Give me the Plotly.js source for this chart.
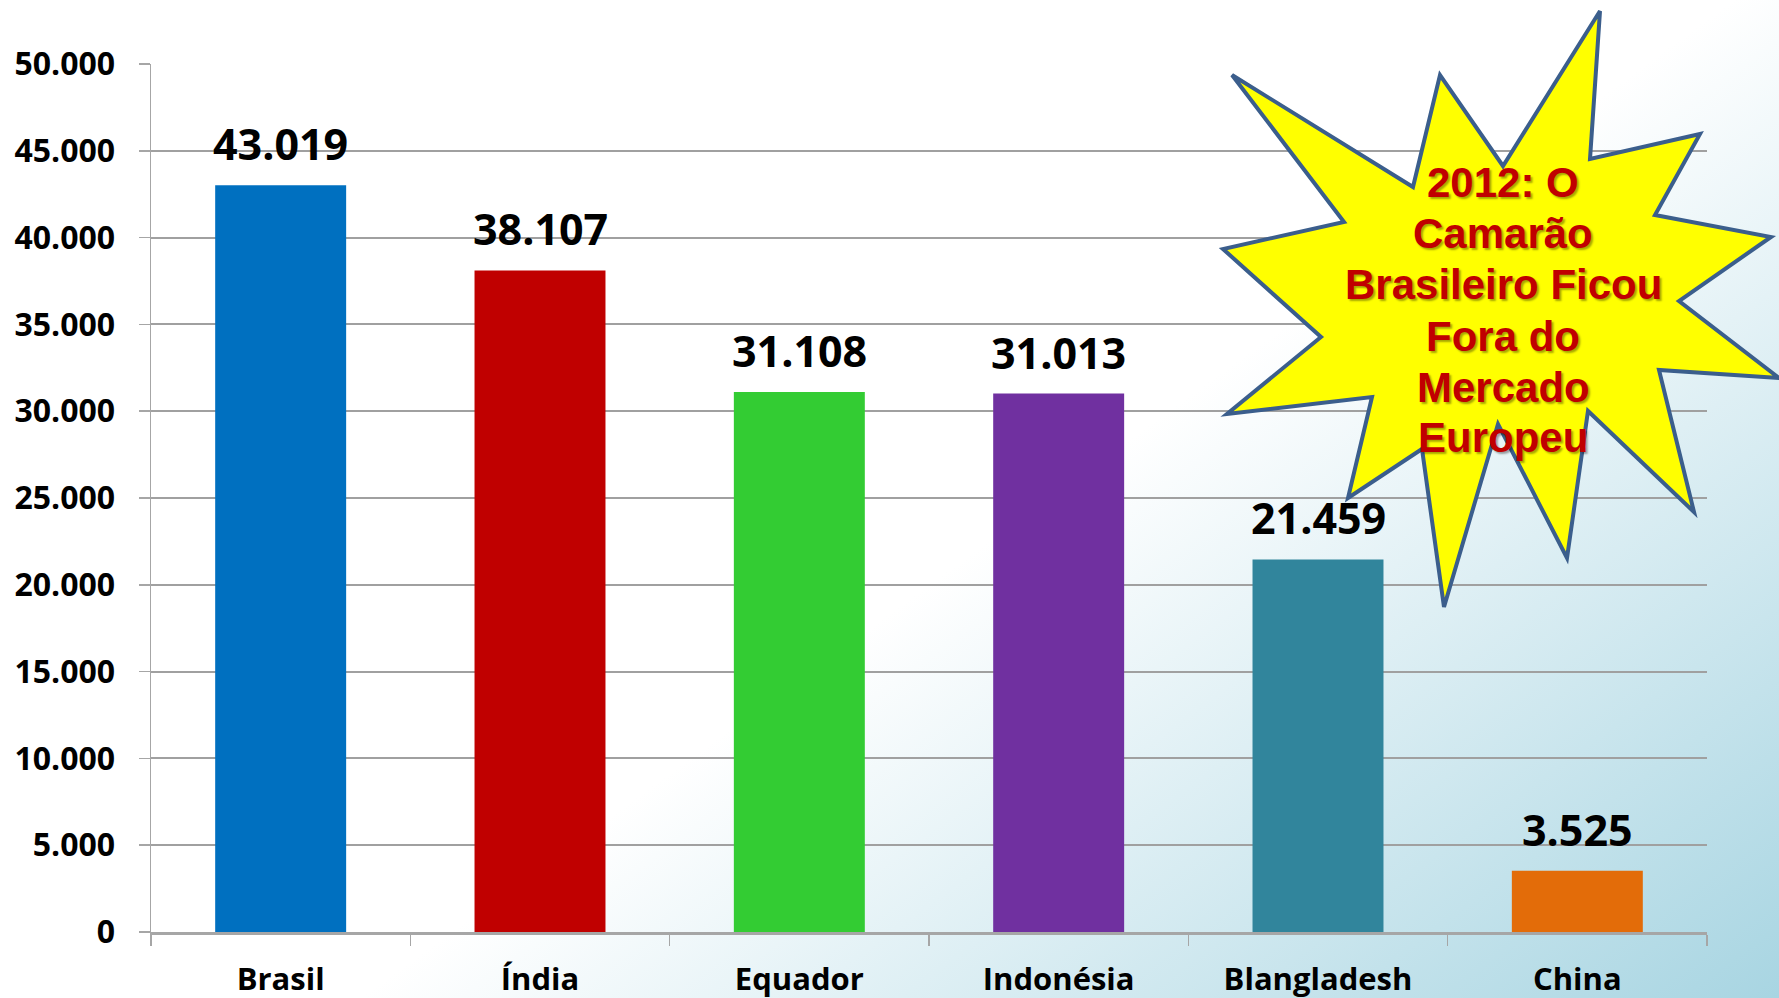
<!DOCTYPE html>
<html>
<head>
<meta charset="utf-8">
<script src="https://cdn.plot.ly/plotly-3.0.1.min.js"></script>
<style>
  html, body { margin: 0; padding: 0; width: 1779px; height: 998px; overflow: hidden;
    background: linear-gradient(144deg, #ffffff 0%, #ffffff 55%, #a8d5e2 100%); }
  #chart { width: 1779px; height: 998px; }
</style>
</head>
<body>
<div id="chart"></div>
<script>
const categories = ['Brasil', 'Índia', 'Equador', 'Indonésia', 'Blangladesh', 'China'];
const values = [43019, 38107, 31108, 31013, 21459, 3525];
const barColors = ['#0070C0', '#C00000', '#33CC33', '#7030A0', '#31859C', '#E36C09'];
const calloutLines = ['2012: O', 'Camarão', 'Brasileiro Ficou', 'Fora do', 'Mercado', 'Europeu'];

const W = 1779, H = 998;
const M = { l: 151, r: 72, t: 64, b: 66 };
const PW = W - M.l - M.r, PH = H - M.t - M.b;
const px = x => (x - M.l) / PW;
const py = y => (H - M.b - y) / PH;

function fmt(v) {
  return String(v).replace(/\B(?=(\d{3})+(?!\d))/g, '.');
}

// starburst outline (pixel coords)
const star = [
  [1600, 11], [1590, 159], [1700, 134], [1655, 215], [1771, 237], [1679, 301],
  [1779, 378], [1659, 370], [1694, 512], [1588, 411], [1567, 558], [1498, 424],
  [1444, 607], [1422, 449], [1348, 498], [1372, 397], [1227, 414], [1321, 337],
  [1223, 249], [1344, 222], [1232, 75], [1413, 187], [1440, 75], [1503, 166]
];
const starPath = 'M ' + star.map(p => px(p[0]).toFixed(5) + ',' + py(p[1]).toFixed(5)).join(' L ') + ' Z';

const lineY = [182, 233, 284, 336, 387, 438];

const annotations = [];
categories.forEach((c, i) => {
  annotations.push({
    x: c, y: values[i], xref: 'x', yref: 'y',
    text: fmt(values[i]), showarrow: false,
    yanchor: 'bottom', yshift: 10,
    font: { family: 'Open Sans', size: 43, color: '#000', weight: 'bold' }
  });
});
calloutLines.forEach((t, i) => {
  annotations.push({
    x: px(1503), y: py(lineY[i]), xref: 'paper', yref: 'paper',
    text: t, showarrow: false, xanchor: 'center', yanchor: 'middle',
    font: { family: 'Liberation Sans', size: 42, color: '#C00000', weight: 'bold',
            shadow: '2px 2px 2px rgba(0,0,0,0.35)' }
  });
});

const trace = {
  type: 'bar', x: categories, y: values,
  marker: { color: barColors, line: { width: 0 } },
  hoverinfo: 'none'
};

const layout = {
  width: W, height: H,
  margin: M,
  paper_bgcolor: 'rgba(0,0,0,0)',
  plot_bgcolor: 'rgba(0,0,0,0)',
  separators: ',.',
  showlegend: false,
  bargap: 0.495,
  xaxis: {
    type: 'category',
    showgrid: false,
    showline: true, linecolor: '#a6a6a6', linewidth: 3,
    ticks: 'outside', tickson: 'boundaries', ticklen: 11, tickwidth: 1.5, tickcolor: '#a6a6a6',
    ticklabelstandoff: 18,
    tickfont: { family: 'Open Sans', size: 31, color: '#000', weight: 'bold' },
    fixedrange: true
  },
  yaxis: {
    range: [0, 50000], dtick: 5000, tickformat: ',d',
    showgrid: true, gridcolor: '#a0a0a0', gridwidth: 2,
    zeroline: false,
    showline: true, linecolor: '#a6a6a6', linewidth: 1.5,
    ticks: 'outside', ticklen: 11, tickwidth: 1.5, tickcolor: '#a6a6a6',
    ticklabelstandoff: 17,
    tickfont: { family: 'Open Sans', size: 32, color: '#000', weight: 'bold' },
    fixedrange: true
  },
  shapes: [{
    type: 'path', xref: 'paper', yref: 'paper', path: starPath,
    fillcolor: '#FFFF00', line: { color: '#3B5E8C', width: 4 }, layer: 'above'
  }],
  annotations: annotations
};

Plotly.newPlot('chart', [trace], layout, { staticPlot: true, displayModeBar: false });
</script>
</body>
</html>
